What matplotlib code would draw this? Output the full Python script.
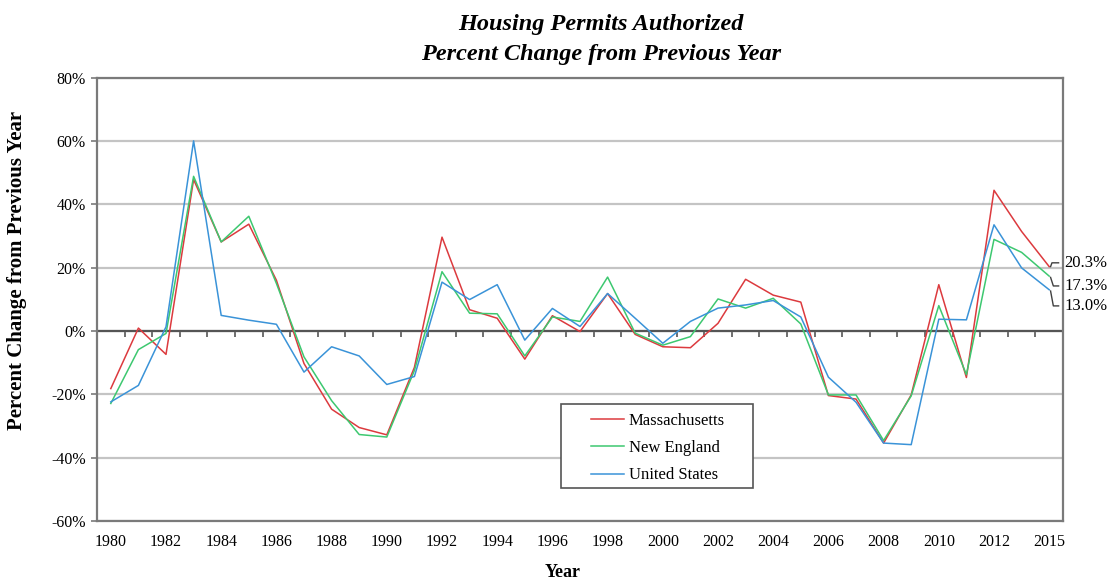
import numpy as np
import matplotlib.pyplot as plt
from matplotlib.patches import Rectangle
from matplotlib.ticker import FixedLocator, FuncFormatter

plt.rcParams['font.family'] = ['Liberation Serif', 'DejaVu Serif']

# years on the category axis (the last point is 2015)
years = list(range(1980, 2014)) + [2015]

# percent change from previous year
massachusetts = [-18.2, 0.9, -7.4, 47.8, 28.1, 33.7, 16.0, -10.3, -24.7, -30.5,
                 -32.8, -11.5, 29.6, 6.7, 4.0, -8.9, 4.8, -0.2, 11.8, -1.1,
                 -5.0, -5.3, 2.4, 16.3, 11.3, 9.1, -20.4, -21.5, -35.4, -20.2,
                 14.6, -14.7, 44.4, 31.4, 20.3]
new_england = [-22.9, -5.9, -0.8, 48.8, 28.1, 36.2, 15.0, -8.2, -22.0, -32.7,
               -33.5, -12.5, 18.7, 5.6, 5.4, -7.9, 4.4, 3.0, 17.0, -0.7,
               -4.5, -1.8, 10.1, 7.2, 10.3, 2.2, -20.2, -20.2, -34.6, -20.5,
               8.0, -13.8, 28.9, 24.8, 17.3]
united_states = [-22.4, -17.2, 1.3, 60.0, 4.9, 3.4, 2.1, -13.0, -5.0, -7.9,
                 -16.9, -14.4, 15.4, 9.9, 14.6, -2.9, 7.1, 1.4, 11.8, 4.0,
                 -3.9, 3.0, 7.2, 8.2, 9.6, 4.4, -14.6, -22.5, -35.4, -35.9,
                 3.7, 3.5, 33.5, 19.9, 13.0]

series = [('Massachusetts', massachusetts, '#dc3a3e'),
          ('New England', new_england, '#3dc870'),
          ('United States', united_states, '#3a93d8')]

fig = plt.figure(figsize=(11.1, 5.81), dpi=100)
ax = fig.add_axes([97 / 1110, 1 - 521 / 581, 966 / 1110, 443.5 / 581])

x = np.arange(len(years))
for name, vals, col in series:
    ax.plot(x, vals, color=col, lw=1.1, label=name, zorder=3)

ax.set_xlim(-0.5, len(years) - 0.5)
ax.set_ylim(-60, 80)

# gridlines and frame
ax.set_yticks(np.arange(-60, 81, 20))
ax.yaxis.set_major_formatter(FuncFormatter(lambda v, p: f'{v:.0f}%'))
ax.grid(axis='y', color='#c4c4c4', lw=1.6)
ax.set_axisbelow(True)
for s in ax.spines.values():
    s.set_color('#7a7a7a')
    s.set_linewidth(1.6)
ax.tick_params(axis='y', length=4, width=1.2, color='#7a7a7a', pad=4,
               labelsize=11.5)

# year labels every other category
ax.set_xticks(x[::2])
ax.set_xticklabels([str(y) for y in years[::2]])
ax.tick_params(axis='x', length=0, pad=9, labelsize=11.5)

# category axis crossing at zero with boundary ticks
ax.axhline(0, color='#555555', lw=1.6, zorder=2)
zax = ax.secondary_xaxis(60 / 140)
zax.spines['bottom'].set_visible(False)
zax.xaxis.set_major_locator(FixedLocator(np.arange(-0.5, len(years), 1)))
zax.tick_params(axis='x', direction='out', length=4, width=1.2,
                color='#555555', labelbottom=False)

# end-of-series value labels with leader lines
ends = [(massachusetts[-1], 21.5, 0.1),
        (new_england[-1], 14.2, 0.15),
        (united_states[-1], 7.9, 0.15)]
last = x[-1]
for val, ylab, dx in ends:
    start = val if ylab > val else val - 0.4
    ax.plot([last + 0.05, last + dx, last + 0.34], [start, ylab, ylab],
            color='#404040', lw=1.0, clip_on=False, zorder=4)
    ax.text(last + 0.55, ylab, f'{val:.1f}%', fontsize=12, va='center',
            ha='left')

# legend entries sit inside a separately drawn box
ax.add_patch(Rectangle((0.4803, 0.0744), 0.1988, 0.1894, transform=ax.transAxes,
                       facecolor='white', edgecolor='#555555', lw=1.2,
                       zorder=5))
leg = ax.legend(loc='upper left', bbox_to_anchor=(0.511, 0.244),
                borderaxespad=0, borderpad=0, fontsize=12,
                handlelength=2.0, handletextpad=0.3, labelspacing=0.68,
                frameon=False)
leg.set_zorder(6)

ax.set_ylabel('Percent Change from Previous Year', fontsize=15,
              fontweight='bold')
ax.yaxis.set_label_coords(-0.072, 0.566)
ax.set_xlabel('Year', fontsize=13, fontweight='bold')
ax.xaxis.set_label_coords(0.482, -0.098)

fig.text(601 / 1110, 1 - 14 / 581,
         'Housing Permits Authorized\nPercent Change from Previous Year',
         ha='center', va='top', fontsize=17.5, fontweight='bold',
         style='italic', linespacing=1.55)

fig.savefig('out.png', dpi=100)
